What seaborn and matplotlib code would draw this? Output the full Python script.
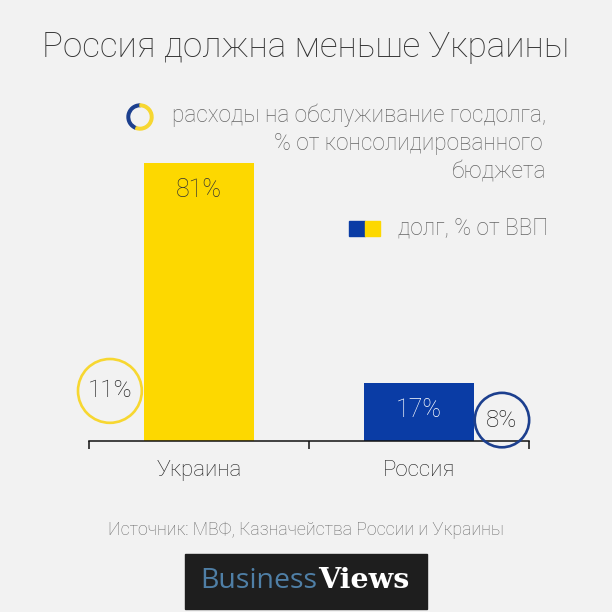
import matplotlib
matplotlib.use("Agg")
import matplotlib.pyplot as plt
from matplotlib.patches import Rectangle, Wedge
import seaborn as sns
import pandas as pd

# данные
countries = ["Украина", "Россия"]
debt_gdp = [81, 17]            # долг, % от ВВП
service_share = [11, 8]         # расходы на обслуживание госдолга, % бюджета
bar_colors = ["#fdd800", "#0a3ca5"]
ring_colors = ["#f7d731", "#1c3f8e"]
label_colors = ["#333333", "#ffffff"]

title = "Россия должна меньше Украины"
legend_ring_lines = ["расходы на обслуживание госдолга,", "% от консолидированного", "бюджета"]
legend_bar_text = "долг, % от ВВП"
source = "Источник: МВФ, Казначейства России и Украины"

BG = "#f2f2f2"
sns.set_theme(style="white")
plt.rcParams['font.family'] = ['Roboto', 'DejaVu Sans']
plt.rcParams['font.weight'] = 'light'

fig = plt.figure(figsize=(6.12, 6.12), dpi=100, facecolor=BG)
W = 612.0
ax = fig.add_axes([89 / W, (612 - 441) / W, 440 / W, 300 / W])
ax.set_facecolor("none")

df = pd.DataFrame({"country": countries, "debt": debt_gdp})
sns.barplot(data=df, x="country", y="debt", hue="country", palette=bar_colors,
            width=0.5, saturation=1, legend=False, linewidth=0, ax=ax)
ax.set_xlim(-0.5, 1.5)
ax.set_ylim(0, 300 / 3.43)

for i, v in enumerate(debt_gdp):
    ax.annotate(f"{v}%", (i, v), xytext=(0, -19.5), textcoords="offset points",
                ha="center", va="center", fontsize=18, color=label_colors[i],
                fontweight="light")

# кольца: расходы на обслуживание долга
ring_dx = [-0.405, 0.377]
ring_y = [14.6, 6.1]
for i, v in enumerate(service_share):
    ax.scatter(i + ring_dx[i], ring_y[i], s=v * 192, facecolors="none",
               edgecolors=ring_colors[i], linewidths=1.9, zorder=5, clip_on=False)
    ax.text(i + ring_dx[i], ring_y[i], f"{v}%", ha="center", va="center",
            fontsize=17.5, color="#222222", fontweight="light", zorder=6)

for s in ["top", "right", "left"]:
    ax.spines[s].set_visible(False)
ax.spines["bottom"].set_color("#111111")
ax.spines["bottom"].set_linewidth(1.1)
ax.set_yticks([])
ax.set_xticks([-0.5, 0.5, 1.5], minor=True)
ax.tick_params(axis="x", which="minor", bottom=True, length=6, width=1.1,
               color="#111111", direction="out")
ax.tick_params(axis="x", which="major", length=0, pad=14, labelsize=16, labelcolor="#222222")
ax.set_xlabel("")
ax.set_ylabel("")

# заголовок
fig.text(0.5, 1 - 47 / W, title, ha="center", va="center", fontsize=25.2,
         color="#333333", fontweight="light")

# легенда: кольцо
cx, cy, r = 140 / W, 1 - 117 / W, 13 / W
fig.patches.append(Wedge((cx, cy), r, 90, 250, width=2.6 / W, color="#1c3f8e",
                         transform=fig.transFigure))
fig.patches.append(Wedge((cx, cy), r, 250, 450, width=2.6 / W, color="#f7d731",
                         transform=fig.transFigure))
fs_leg = 16.3
fig.text(546 / W, 1 - 115 / W, legend_ring_lines[0], ha="right", va="center",
         fontsize=fs_leg, color="#666666", fontweight="light")
fig.text(543 / W, 1 - 143 / W, legend_ring_lines[1], ha="right", va="center",
         fontsize=fs_leg, color="#666666", fontweight="light")
fig.text(546 / W, 1 - 172 / W, legend_ring_lines[2], ha="right", va="center",
         fontsize=fs_leg, color="#666666", fontweight="light")

# легенда: квадрат
fig.patches.append(Rectangle((349 / W, 1 - 236 / W), 16 / W, 15 / W, color="#0a3ca5",
                             transform=fig.transFigure))
fig.patches.append(Rectangle((365 / W, 1 - 236 / W), 15 / W, 15 / W, color="#fdd800",
                             transform=fig.transFigure))
fig.text(548 / W, 1 - 228 / W, legend_bar_text, ha="right", va="center",
         fontsize=fs_leg, color="#666666", fontweight="light")

# источник
fig.text(306 / W, 1 - 530 / W, source, ha="center", va="center",
         fontsize=12.75, color="#6a6a6a", fontweight="light")

# логотип
fig.patches.append(Rectangle((185 / W, 3 / W), 242 / W, 55 / W, color="#1e1e1e",
                             transform=fig.transFigure))
fig.text(317 / W, 1 - 581 / W, "Business", ha="right", va="center", fontsize=20.5,
         color="#4f7fa6", fontweight="normal", family=["Open Sans"])
fig.text(318 / W, 1 - 581 / W, "Views", ha="left", va="center", fontsize=20.5,
         color="#ffffff", fontweight="bold", family=["DejaVu Serif"])

fig.savefig("out.png", dpi=100, facecolor=BG)
